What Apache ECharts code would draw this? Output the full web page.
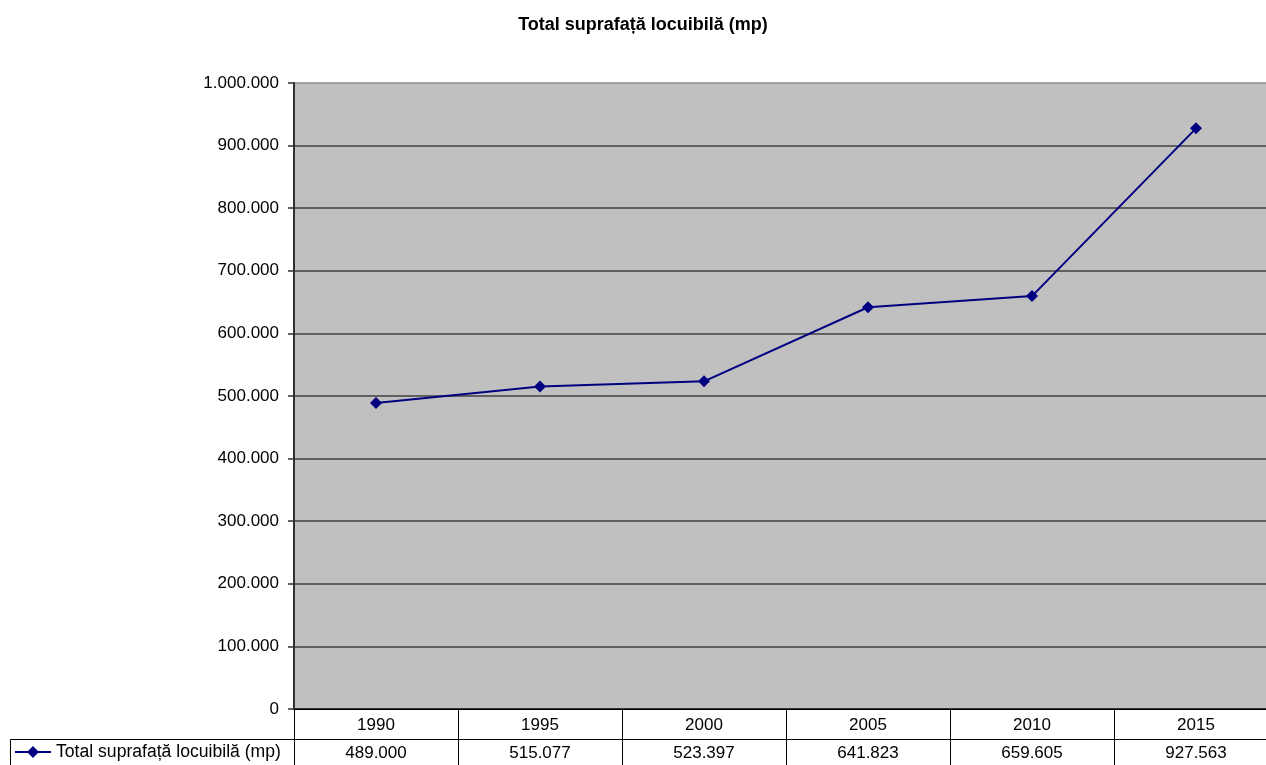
<!DOCTYPE html>
<html>
<head>
<meta charset="utf-8">
<script src="https://cdn.jsdelivr.net/npm/echarts@6/dist/echarts.min.js"></script>
<style>
html,body{margin:0;padding:0;background:#fff;overflow:hidden;width:1266px;height:765px;}
#chart{width:1280px;height:765px;}
</style>
</head>
<body>
<div id="chart"></div>
<script>
const chartTitle = 'Total suprafață locuibilă (mp)';
const seriesName = 'Total suprafață locuibilă (mp)';
const years = ['1990', '1995', '2000', '2005', '2010', '2015'];
const values = [489000, 515077, 523397, 641823, 659605, 927563];
const yMin = 0, yMax = 1000000, yStep = 100000;

function fmt(v) {
  return String(Math.round(v)).replace(/\B(?=(\d{3})+(?!\d))/g, '.');
}
const valueLabels = values.map(fmt);

const FONT = 'Liberation Sans, Arial, sans-serif';
const chart = echarts.init(document.getElementById('chart'));
chart.setOption({
  animation: false,
  backgroundColor: '#ffffff',
  title: {
    text: chartTitle,
    left: 643,
    textAlign: 'center',
    top: 16,
    padding: 0,
    textStyle: { fontFamily: FONT, fontSize: 18, fontWeight: 'bold', color: '#000' }
  },
  legend: {
    show: true,
    left: 14,
    top: 743,
    itemWidth: 36,
    itemHeight: 15,
    padding: 0,
    textStyle: { fontFamily: FONT, fontSize: 17.6, color: '#000', padding: [0,0,0,0] },
    data: [seriesName]
  },
  grid: {
    left: 294,
    top: 83,
    width: 984,
    height: 626,
    show: true,
    backgroundColor: '#C0C0C0',
    borderWidth: 0
  },
  xAxis: [{
    type: 'category',
    data: years,
    position: 'bottom',
    boundaryGap: true,
    axisLine: { show: true, lineStyle: { color: '#000', width: 1 } },
    axisTick: { show: true, interval: 0, length: 60, lineStyle: { color: '#000', width: 1 } },
    axisLabel: { interval: 0, margin: 8, fontFamily: FONT, fontSize: 17, color: '#000' },
    splitLine: { show: false }
  }, {
    type: 'category',
    data: valueLabels,
    position: 'bottom',
    offset: 30,
    boundaryGap: true,
    axisLine: { show: true, lineStyle: { color: '#000', width: 1 } },
    axisTick: { show: false },
    axisLabel: { interval: 0, margin: 6, fontFamily: FONT, fontSize: 17, color: '#000' },
    splitLine: { show: false }
  }],
  yAxis: {
    type: 'value',
    min: yMin,
    max: yMax,
    interval: yStep,
    axisLine: { show: true, lineStyle: { color: '#303030', width: 2 } },
    axisTick: { show: true, length: 6, lineStyle: { color: '#303030', width: 1.5 } },
    axisLabel: { margin: 15, fontFamily: FONT, fontSize: 17, color: '#000', formatter: fmt },
    splitLine: { show: true, lineStyle: { color: ['#000','#404040','#404040','#404040','#404040','#404040','#404040','#404040','#404040','#404040','#909090'], width: 1.5 } }
  },
  graphic: [{
    type: 'rect',
    shape: { x: 10.5, y: 739.5, width: 284, height: 40 },
    style: { fill: 'none', stroke: '#000', lineWidth: 1 },
    z: 10
  }],
  series: [{
    name: seriesName,
    type: 'line',
    xAxisIndex: 0,
    data: values,
    symbol: 'diamond',
    symbolSize: 12,
    lineStyle: { color: '#000080', width: 2 },
    itemStyle: { color: '#000080' }
  }]
});
</script>
</body>
</html>
